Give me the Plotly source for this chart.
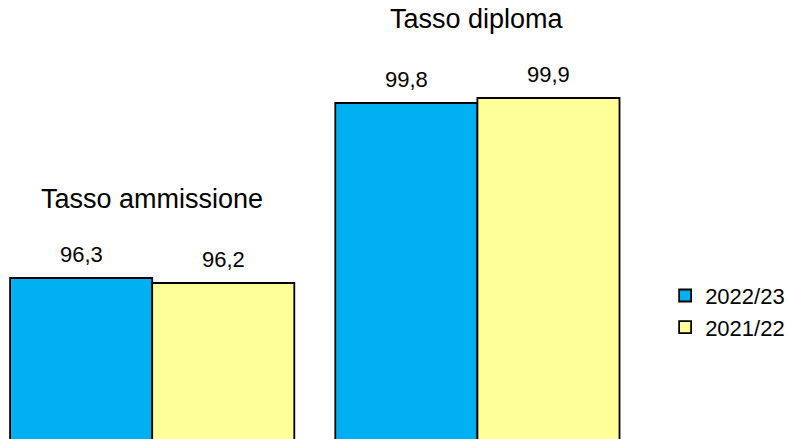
import plotly.graph_objects as go

# dati
categorie = ["Tasso ammissione", "Tasso diploma"]
anni = ["2022/23", "2021/22"]
valori_2022_23 = [96.3, 99.8]
valori_2021_22 = [96.2, 99.9]
colori = ["#00B0F0", "#FFFF99"]

serie = [valori_2022_23, valori_2021_22]

fig = go.Figure()
for i, (anno, vals) in enumerate(zip(anni, serie)):
    fig.add_trace(go.Bar(
        x=categorie,
        y=vals,
        name=anno,
        legendgroup=anno,
        marker=dict(color=colori[i], line=dict(color="black", width=1.8)),
    ))

bargap = 0.126
w = (1 - bargap) / 2

# etichette dei valori sopra le barre
for i, vals in enumerate(serie):
    off = (i - 0.5) * w
    for j, v in enumerate(vals):
        fig.add_annotation(
            x=j + off, y=v, text=f"{v:.1f}".replace(".", ","),
            showarrow=False, yanchor="bottom", yshift=9,
            font=dict(size=22, color="black"),
        )

# nomi categorie sopra i gruppi
for j, cat in enumerate(categorie):
    top = max(s[j] for s in serie)
    fig.add_annotation(
        x=j, y=top, text=cat, showarrow=False, yanchor="bottom", yshift=62,
        font=dict(size=27, color="black"),
    )

fig.update_layout(
    width=789, height=439,
    margin=dict(l=0, r=149, t=0, b=0, autoexpand=False),
    paper_bgcolor="white", plot_bgcolor="white",
    font=dict(family="Liberation Sans, Arial, sans-serif", color="black"),
    barmode="group", bargap=bargap, bargroupgap=0,
    showlegend=True,
    legend=dict(
        xref="container", yref="container",
        x=0.843, y=0.29, xanchor="left", yanchor="middle",
        font=dict(size=22), tracegroupgap=18, traceorder="normal",
        itemwidth=30,
    ),
    xaxis=dict(range=[-0.468, 1.5], showticklabels=False, showgrid=False,
               zeroline=False, showline=False, ticks=""),
    yaxis=dict(range=[93.08, 101.86], visible=False),
)

# niente margine della pagina, niente modebar
fig.write_html("out.html", config={"displayModeBar": False},
               post_script="document.body.style.margin='0';")
